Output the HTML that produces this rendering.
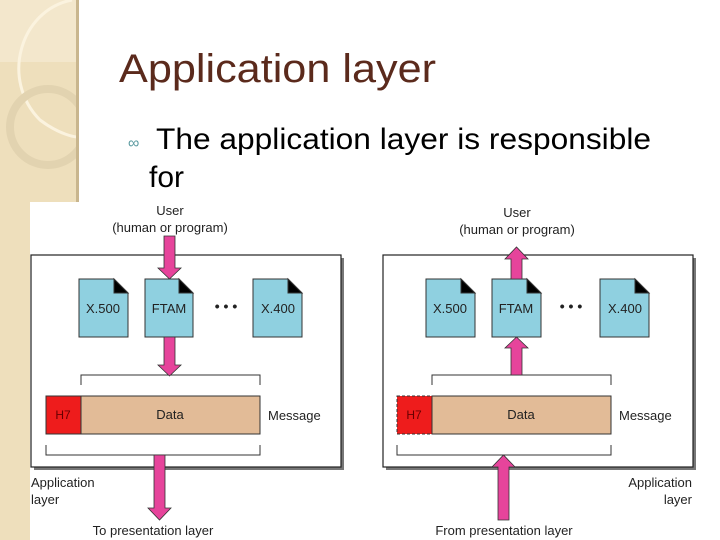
<!DOCTYPE html>
<html><head><style>
html,body{margin:0;padding:0;width:720px;height:540px;overflow:hidden;background:#fff}
</style></head><body>
<svg width="720" height="540" viewBox="0 0 720 540" xmlns="http://www.w3.org/2000/svg" font-family="Liberation Sans, sans-serif">
<defs>
<clipPath id="strip"><rect x="0" y="0" width="77" height="540"/></clipPath>
</defs>
<!-- left decorative strip -->
<rect x="0" y="0" width="78" height="540" fill="#eedfbc"/>
<g clip-path="url(#strip)">
<rect x="0" y="0" width="78" height="62" fill="#f3e7cc"/>
<path d="M72 0 C20 10 0 80 40 120 C60 135 75 137 78 137" fill="none" stroke="#fbf3df" stroke-width="3"/>
<circle cx="48" cy="127" r="38" fill="none" stroke="#e2d3b0" stroke-width="8"/>
</g>
<rect x="76" y="0" width="3" height="540" fill="#c9b68e"/>
<!-- title -->
<text x="119" y="82" font-size="40" fill="#5b2a1c" textLength="317" lengthAdjust="spacingAndGlyphs">Application layer</text>
<text x="128" y="148" font-size="16" fill="#5a9aa0">&#x221E;</text>
<text x="156" y="149" font-size="30" fill="#000" textLength="495" lengthAdjust="spacingAndGlyphs">The application layer is responsible</text>
<text x="149" y="187" font-size="30" fill="#000">for</text>
<!-- diagram white bg -->
<rect x="30" y="202" width="690" height="338" fill="#fff"/>

<g font-size="13" fill="#222">
<!-- LEFT -->
<rect x="34" y="258" width="310" height="212" fill="#777"/>
<rect x="31" y="255" width="310" height="212" fill="#fff" stroke="#222" stroke-width="1.2"/>
<text x="170" y="215" text-anchor="middle">User</text>
<text x="170" y="232" text-anchor="middle">(human or program)</text>
<g stroke="#333" stroke-width="1">
<path d="M79 279 H114 L128 293 V337 H79 Z" fill="#8fd0e0"/>
<path d="M114 279 L128 293 H114 Z" fill="#000"/>
<path d="M145 279 H179 L193 293 V337 H145 Z" fill="#8fd0e0"/>
<path d="M179 279 L193 293 H179 Z" fill="#000"/>
<path d="M253 279 H288 L302 293 V337 H253 Z" fill="#8fd0e0"/>
<path d="M288 279 L302 293 H288 Z" fill="#000"/>
</g>
<text x="103" y="313" text-anchor="middle">X.500</text>
<text x="169" y="313" text-anchor="middle">FTAM</text>
<text x="278" y="313" text-anchor="middle">X.400</text>
<text x="226" y="311" text-anchor="middle" font-size="14" font-weight="bold">• • •</text>
<path d="M81 385 V375 H260 V385" fill="none" stroke="#333"/>
<path d="M46 445 V455 H260 V445" fill="none" stroke="#333"/>
<rect x="46" y="396" width="35" height="38" fill="#ee1c1c" stroke="#333"/>
<rect x="81" y="396" width="179" height="38" fill="#e2bb97" stroke="#333"/>
<text x="63" y="419" text-anchor="middle" font-size="12" fill="#600">H7</text>
<text x="170" y="419" text-anchor="middle">Data</text>
<text x="268" y="420">Message</text>
<text x="31" y="487">Application</text>
<text x="31" y="504">layer</text>
<text x="153" y="535" text-anchor="middle">To presentation layer</text>
<g fill="#e6449b" stroke="#333" stroke-width="0.8">
<path d="M164 236 H175 V268 H181 L169.5 279 L158 268 H164 Z"/>
<path d="M164 337 H175 V365 H181 L169.5 376 L158 365 H164 Z"/>
<path d="M154 455 H165 V508 H171 L159.5 520 L148 508 H154 Z"/>
</g>

<!-- RIGHT -->
<rect x="386" y="258" width="310" height="212" fill="#777"/>
<rect x="383" y="255" width="310" height="212" fill="#fff" stroke="#222" stroke-width="1.2"/>
<text x="517" y="217" text-anchor="middle">User</text>
<text x="517" y="234" text-anchor="middle">(human or program)</text>
<g stroke="#333" stroke-width="1">
<path d="M426 279 H461 L475 293 V337 H426 Z" fill="#8fd0e0"/>
<path d="M461 279 L475 293 H461 Z" fill="#000"/>
<path d="M492 279 H527 L541 293 V337 H492 Z" fill="#8fd0e0"/>
<path d="M527 279 L541 293 H527 Z" fill="#000"/>
<path d="M600 279 H635 L649 293 V337 H600 Z" fill="#8fd0e0"/>
<path d="M635 279 L649 293 H635 Z" fill="#000"/>
</g>
<text x="450" y="313" text-anchor="middle">X.500</text>
<text x="516" y="313" text-anchor="middle">FTAM</text>
<text x="625" y="313" text-anchor="middle">X.400</text>
<text x="571" y="311" text-anchor="middle" font-size="14" font-weight="bold">• • •</text>
<path d="M432 385 V375 H611 V385" fill="none" stroke="#333"/>
<path d="M397 445 V455 H611 V445" fill="none" stroke="#333"/>
<rect x="397" y="396" width="35" height="38" fill="#ee1c1c" stroke="#333" stroke-dasharray="3,2"/>
<rect x="432" y="396" width="179" height="38" fill="#e2bb97" stroke="#333"/>
<text x="414" y="419" text-anchor="middle" font-size="12" fill="#600">H7</text>
<text x="521" y="419" text-anchor="middle">Data</text>
<text x="619" y="420">Message</text>
<text x="692" y="487" text-anchor="end">Application</text>
<text x="692" y="504" text-anchor="end">layer</text>
<text x="504" y="535" text-anchor="middle">From presentation layer</text>
<g fill="#e6449b" stroke="#333" stroke-width="0.8">
<path d="M511 279 H522 V259 H528 L516.5 247 L505 259 H511 Z"/>
<path d="M511 375 H522 V348 H528 L516.5 337 L505 348 H511 Z"/>
<path d="M498 520 H509 V467 H515 L503.5 455 L492 467 H498 Z"/>
</g>
</g>
</svg>
</body></html>
